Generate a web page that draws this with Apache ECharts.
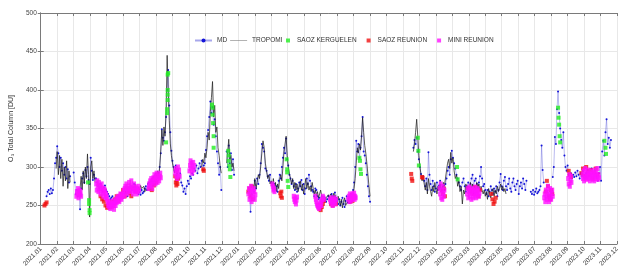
<!DOCTYPE html>
<html>
<head>
<meta charset="utf-8">
<script src="https://cdn.jsdelivr.net/npm/echarts@6/dist/echarts.min.js"></script>
<style>
  html, body { margin: 0; padding: 0; background: #fff; }
  #chart { width: 626px; height: 271px; }
</style>
</head>
<body>
<div id="chart"></div>
<script>
// month tick labels, 2021.01 .. 2023.12
var monthLabels = []
for (var i = 0; i <= 35; i++) {
    var yy = 2021 + Math.floor(i / 12), mm = (i % 12) + 1
    monthLabels.push(yy + '.' + (mm < 10 ? '0' + mm : mm))
}
var yTicks = [200, 250, 300, 350, 400, 450, 500]

// each segment: [start date, step in days, values]
var mdSegs = [
    ['2021-01-12', 2, [262, 268, 270, 265, 272, 266, 270, 285, 305, 312, 327, 318, 300, 312, 295, 305, 290, 300, 285, 297, 280, 288]],
    ['2021-03-01', 2, [293, 280, 265, 270, 262, 268, 245, 272, 285, 292, 280, 296, 288, 300, 283, 278, 312, 295, 283, 290, 285,
        285, 280, 275, 272, 278, 270, 268, 273, 276, 270, 268, 265, 262, 258, 260, 262, 257, 255, 258, 260, 255, 258, 262, 265, 262,
        260, 265, 268, 266, 262, 268, 272, 275, 270, 273, 278, 272, 268, 270, 265, 268, 264, 270, 266, 268, 272, 275, 270, 278, 280,
        276, 282, 285, 280, 288, 284, 290, 286, 292, 300, 318, 349, 338, 334, 345, 365, 400, 426, 380, 345, 321, 308, 300, 295, 302,
        290, 296, 285, 292, 280, 276, 268, 272, 265, 275, 282, 278, 288, 285, 292, 290, 298, 295, 302, 292, 298, 305, 300, 308, 296,
        302, 305, 322, 340, 348, 365, 385, 370, 378, 355, 362, 340, 320, 305, 290, 300, 270]],
    ['2021-12-10', 2, [320, 300, 328, 305, 318, 296, 310, 290]],
    ['2022-01-22', 2, [270, 242, 265, 275, 268, 282, 272, 285, 278, 290, 305, 330, 325, 320, 298, 295, 288, 282, 290,
        280, 276, 272, 278, 270, 275, 268, 282, 290, 285, 300, 312, 325, 318, 337, 310, 302, 290, 285, 278, 282, 275, 270, 278,
        268, 272, 280, 275, 283, 270, 278, 265, 272, 285, 278, 290, 282, 275, 270, 268, 262, 272, 270, 262, 258, 260, 255, 262,
        258, 256, 260, 255, 258, 262, 260, 258, 265, 262, 258, 267, 260, 256, 252, 258, 250, 255, 260, 252, 248, 256, 262, 254,
        258, 262, 265, 260, 270, 280, 300, 334, 320, 330, 312, 325, 340, 365, 320, 315, 305, 290, 275, 262, 255]],
    ['2022-11-20', 2, [325, 335, 330, 338, 320, 310, 300, 291, 285, 288, 282, 275, 285, 270, 319, 290, 278, 270, 282, 275, 268,
        272, 280, 270, 276, 282, 272, 268, 275, 270, 278, 285, 295, 300, 290, 310, 321, 312, 305, 298, 290, 285, 280, 275, 270,
        280, 285, 275, 268, 275, 280, 272, 278, 285, 290, 275, 282, 285, 278, 272, 280, 288, 300, 285, 275, 278, 270, 265, 270,
        262, 268, 275, 270, 265, 272, 268, 275, 262, 270, 280, 291, 275, 270, 282, 287, 275, 270, 278, 285, 272, 268, 280, 285,
        275, 270, 278, 282, 265, 275, 280, 272, 285, 278, 270, 282]],
    ['2023-06-24', 2, [268, 265, 270, 264, 268, 272, 266, 268, 270, 275, 328, 296, 280]],
    ['2023-08-04', 2, [287, 300, 339, 330, 375, 398, 370, 350, 335, 325, 345, 315, 300, 295, 302, 290, 288, 292, 285, 290, 287,
        293, 288, 295, 290, 285, 292, 288, 295, 290, 286, 292, 296, 288, 294, 290, 298, 292, 288, 295, 290, 286, 282, 292, 300,
        282, 320, 334, 315, 345, 362, 330, 338, 325, 335]]
]

var tropomiSegs = [
    ['2021-01-30', 2, [298, 320, 290, 315, 285, 310, 275, 300, 282, 308, 272, 295, 280]],
    ['2021-03-13', 2, [272, 288, 270, 295, 278, 300, 285, 317, 290, 235, 300, 308, 285, 295, 280]],
    ['2021-06-15', 2, [268, 272, 275, 270, 278, 272, 268, 274, 270, 276, 272, 270, 275, 268, 272]],
    ['2021-07-21', 2, [278, 284, 280, 288, 282, 292, 288, 295, 285, 300, 322, 348, 328, 352, 340, 372, 445, 400, 360, 330, 315,
        305, 298, 292, 300, 288, 295]],
    ['2021-10-25', 2, [300, 310, 305, 318, 312, 325, 345, 335, 372, 390, 411, 365, 380, 345, 352, 325, 315, 300, 292]],
    ['2021-12-10', 2, [305, 320, 336, 310, 315, 300, 305, 295]],
    ['2022-01-28', 2, [275, 270, 285, 272, 280, 290, 285, 300, 318, 334, 325, 305, 295, 285, 290, 278,
        282, 275, 285, 270, 280, 268, 278, 272, 285, 290, 282, 300, 320, 318, 340, 315,
        300, 292, 285, 278, 285, 272, 280, 270, 278, 268, 275, 282, 270, 278, 265,
        275, 285, 272, 280, 270, 275, 268, 280, 272, 265, 270, 262, 268, 260, 265,
        270, 262, 258, 262, 255, 260, 258, 264, 260, 265, 262, 258, 266, 260, 264]],
    ['2022-07-01', 2, [257, 262, 256, 250, 258, 247, 255, 260, 250, 248, 255, 262, 252, 258, 260, 264, 272, 285, 305, 325, 318,
        330, 322, 340, 364, 345, 328, 318, 305, 290, 275, 262]],
    ['2022-11-20', 2, [320, 330, 345, 362, 340, 315, 300, 290, 282, 288, 278, 270, 280, 265, 285, 275, 268, 262, 275, 268, 280,
        272, 265, 275, 270, 278, 268, 272, 280, 275, 285, 295, 305, 310, 298, 319, 305, 312, 295, 285, 290, 275, 282, 268, 275,
        252, 270, 265, 278, 270, 275, 268, 280, 272, 278, 265, 275, 270, 280, 272, 278, 268, 275, 270, 265, 270, 262, 268, 258,
        272, 265, 260, 268, 272, 262, 270, 265, 275, 268, 272, 278, 270, 275, 268, 272, 265]]
]

var kergDates = ['2021-03-28', '2021-03-30', '2021-03-30', '2021-03-31', '2021-03-31',
    '2021-08-20', '2021-08-22', '2021-08-22', '2021-08-23', '2021-08-23', '2021-08-23', '2021-08-23', '2021-08-24',
    '2021-11-13', '2021-11-14', '2021-11-14', '2021-11-15', '2021-11-16', '2021-11-16',
    '2021-12-13', '2021-12-14', '2021-12-14', '2021-12-15', '2021-12-16', '2021-12-17',
    '2022-03-30', '2022-03-31', '2022-03-31', '2022-04-01', '2022-04-02',
    '2022-08-12', '2022-08-13', '2022-08-14', '2022-08-15',
    '2022-11-28', '2022-11-29', '2022-11-30',
    '2023-02-09', '2023-02-10',
    '2023-08-14', '2023-08-15', '2023-08-16', '2023-08-17', '2023-08-18',
    '2023-11-08', '2023-11-10', '2023-11-11']
var kergVals = [280, 257, 252, 244, 240,
    332, 370, 375, 387, 394, 400, 420, 422,
    381, 377, 368, 357, 340, 325,
    321, 315, 308, 302, 297, 287,
    310, 297, 293, 282, 274,
    312, 308, 297, 291,
    338, 321, 302,
    300, 284,
    377, 364, 355, 340, 332,
    334, 325, 317]

var reunionSegs = [
    ['2021-01-08', 2, [250, 252, 254]],
    ['2021-04-20', 3, [262, 258, 255, 250, 247, 252, 248, 255, 252, 258, 262, 256, 262, 265, 270, 262, 268, 272, 266, 262]],
    ['2021-07-20', 2, [272, 275, 270, 278, 276, 282, 280]],
    ['2021-09-06', 1, [288, 280, 276, 283, 278, 285]],
    ['2021-10-28', 1, [297, 295]],
    ['2022-01-20', 2, [268, 272, 262, 275, 258]],
    ['2022-03-18', 1, [266, 262, 268, 260]],
    ['2022-05-28', 2, [250, 246, 244, 248, 252, 256]],
    ['2022-06-20', 3, [252, 250, 255, 252]],
    ['2022-07-26', 2, [255, 258, 256, 262, 260]],
    ['2022-11-16', 1, [291, 285, 282]],
    ['2022-12-06', 1, [287, 286]],
    ['2023-01-12', 2, [270, 265, 272, 262]],
    ['2023-03-01', 3, [272, 268, 270, 265, 274, 268, 262, 270]],
    ['2023-04-12', 2, [265, 258, 252, 255, 260]],
    ['2023-07-22', 2, [268, 282, 275, 262, 258, 270, 265]],
    ['2023-09-03', 2, [295, 290, 287]],
    ['2023-09-26', 3, [292, 298, 288, 300, 295, 290, 296, 285, 292, 298, 290]]
]

var miniSegs = [
    ['2021-03-06', 1, [262, 268, 265, 272, 260, 266, 270, 264, 268, 262]],
    ['2021-04-12', 1, [278, 270, 282, 275, 268, 280, 272, 276, 265, 270, 278, 273, 268, 262, 272, 266, 270, 260, 265,
        262, 258, 255, 250, 252, 248, 255, 246, 250, 253, 248, 252, 256, 250, 245, 252, 255, 250, 258, 254, 260, 256, 262, 258,
        255, 262, 265, 260, 258, 264, 262,
        265, 270, 262, 272, 275, 268, 278, 272, 265, 270, 275, 280, 272, 268, 276, 282, 274, 270, 265, 272, 278, 270, 268, 274,
        270, 265, 272, 268, 275, 270]],
    ['2021-07-18', 1, [272, 278, 275, 282, 276, 285, 280, 272, 278, 286, 282, 290, 284, 278, 288, 292, 285, 280, 290, 286, 282, 288, 292, 286]],
    ['2021-09-06', 1, [292, 298, 288, 295, 285, 300, 290, 296, 288]],
    ['2021-10-02', 1, [295, 302, 308, 298, 305, 292, 300, 306, 296, 302]],
    ['2022-01-20', 1, [265, 272, 258, 268, 262, 275, 255, 270, 265, 260, 272, 268, 258, 264]],
    ['2022-03-03', 1, [278, 275, 270, 272, 268]],
    ['2022-04-12', 1, [262, 258, 255, 260, 252, 257, 261]],
    ['2022-05-22', 1, [262, 258, 255, 252, 250, 248, 250, 246, 248, 252, 255, 250, 256, 258, 262, 260, 258]],
    ['2022-06-18', 1, [258, 255, 260, 252, 256, 250, 258, 254, 260, 256, 252, 258]],
    ['2022-07-22', 1, [258, 262, 255, 265, 260, 256, 263, 258, 265, 260, 262, 266, 258, 262, 260]],
    ['2023-01-08', 1, [272, 265, 278, 260, 270, 258, 275, 266, 262, 270]],
    ['2023-02-26', 1, [265, 272, 260, 268, 274, 262, 270, 266, 258, 272, 265, 260, 270, 268, 262, 274, 266, 260, 268, 272, 264, 270, 262, 266]],
    ['2023-07-19', 1, [260, 265, 255, 270, 262, 258, 268, 275, 262, 255, 265, 272, 260, 258, 266, 270, 262]],
    ['2023-09-02', 1, [285, 278, 290, 275, 282, 288, 280]],
    ['2023-09-28', 1, [290, 285, 295, 282, 288, 298, 286, 292, 284, 290, 296, 285, 288, 292, 282, 290, 295, 286, 290, 284,
        293, 288, 282, 296, 290, 285, 292, 288, 298, 284, 290, 286]]
]

// date -> months since 2021-01-01
function toMonth(d) {
    var y = d.getUTCFullYear(), m = d.getUTCMonth()
    var dim = new Date(Date.UTC(y, m + 1, 0)).getUTCDate()
    return (y - 2021) * 12 + m + (d.getUTCDate() - 1) / dim
}
function shiftDay(s, n) {
    var d = new Date(s + 'T00:00:00Z')
    d.setUTCDate(d.getUTCDate() + n)
    return d
}
function build(segs) {
    var out = []
    segs.forEach(function (seg, i) {
        if (i) out.push(['-', '-'])
        seg[2].forEach(function (v, k) {
            out.push([toMonth(shiftDay(seg[0], k * seg[1])), v])
        })
    })
    return out
}

function initChart() {
    var chart = echarts.init(document.getElementById('chart'))
    var font = 'Liberation Sans, Arial, sans-serif'
    var axisCol = '#7a7a7a'
    var square = 'path://M0,0h1v1h-1z'
    var kerg = kergDates.map(function (d, i) { return [toMonth(shiftDay(d, 0)), kergVals[i]] })

    var baseX = {
        type: 'value', min: 0, max: 35, interval: 1,
        axisLine: { lineStyle: { color: axisCol, width: 1 } },
        axisTick: { inside: true, length: 3, lineStyle: { color: axisCol } },
        splitLine: { show: false }
    }
    var baseY = {
        type: 'value', min: yTicks[0], max: yTicks[yTicks.length - 1], interval: 50,
        axisLine: { show: true, lineStyle: { color: axisCol, width: 1 } },
        axisTick: { show: true, inside: true, length: 3, lineStyle: { color: axisCol } },
        splitLine: { show: false }
    }
    var legendText = { fontSize: 6.5, color: '#333', fontFamily: font }

    var option = {
        backgroundColor: '#fff',
        animation: false,
        grid: { left: 39, right: 9, top: 13, bottom: 27 },
        legend: [
            {
                top: 32, left: 189,
                itemWidth: 17, itemHeight: 5, itemGap: 3,
                textStyle: legendText,
                data: [
                    { name: 'MD' },
                    { name: 'TROPOMI', icon: 'path://M0,0h30v1h-30z', itemStyle: { color: '#777' } }
                ]
            },
            {
                top: 32, left: 281,
                itemWidth: 8, itemHeight: 4, itemGap: 10,
                textStyle: legendText,
                data: [
                    { name: 'SAOZ KERGUELEN', icon: square },
                    { name: 'SAOZ REUNION', icon: square },
                    { name: 'MINI REUNION', icon: square }
                ]
            }
        ],
        xAxis: [
            echarts.util.merge({
                position: 'bottom',
                axisLabel: {
                    rotate: 45, fontSize: 6.5, color: '#333', fontFamily: font, margin: 4,
                    formatter: function (v) { return monthLabels[Math.round(v)] }
                },
                splitLine: { show: true, lineStyle: { color: '#e8e8e8', width: 1 } }
            }, baseX, false),
            echarts.util.merge({ position: 'top', axisLabel: { show: false } }, baseX, false)
        ],
        yAxis: [
            echarts.util.merge({
                position: 'left',
                name: 'O₃ Total Column [DU]',
                nameLocation: 'middle', nameGap: 22,
                nameTextStyle: { fontSize: 7, color: '#333', fontFamily: font },
                axisLabel: { fontSize: 6.5, color: '#444', fontFamily: font, margin: 4 },
                splitLine: { show: true, lineStyle: { color: '#e8e8e8', width: 1 } }
            }, baseY, false),
            echarts.util.merge({ position: 'right', axisLabel: { show: false } }, baseY, false)
        ],
        series: [
            {
                name: 'MD', type: 'line', data: build(mdSegs),
                symbol: 'circle', symbolSize: 2, showSymbol: true,
                lineStyle: { color: 'rgba(60,60,210,0.45)', width: 0.8 },
                itemStyle: { color: '#1414d8' },
                z: 2
            },
            {
                name: 'TROPOMI', type: 'line', data: build(tropomiSegs),
                symbol: 'none', showSymbol: false,
                lineStyle: { color: '#1a1a1a', width: 0.9, opacity: 0.8 },
                itemStyle: { color: '#777' },
                z: 3
            },
            {
                name: 'SAOZ KERGUELEN', type: 'scatter', data: kerg,
                symbol: 'rect', symbolSize: 4,
                itemStyle: { color: '#22ee22' }, z: 5
            },
            {
                name: 'SAOZ REUNION', type: 'scatter', data: build(reunionSegs),
                symbol: 'rect', symbolSize: 4,
                itemStyle: { color: '#f01010' }, z: 4
            },
            {
                name: 'MINI REUNION', type: 'scatter', data: build(miniSegs),
                symbol: 'rect', symbolSize: [4, 5],
                itemStyle: { color: '#ff10ff' }, z: 4
            }
        ]
    }
    chart.setOption(option)
}
initChart()
</script>
</body>
</html>
